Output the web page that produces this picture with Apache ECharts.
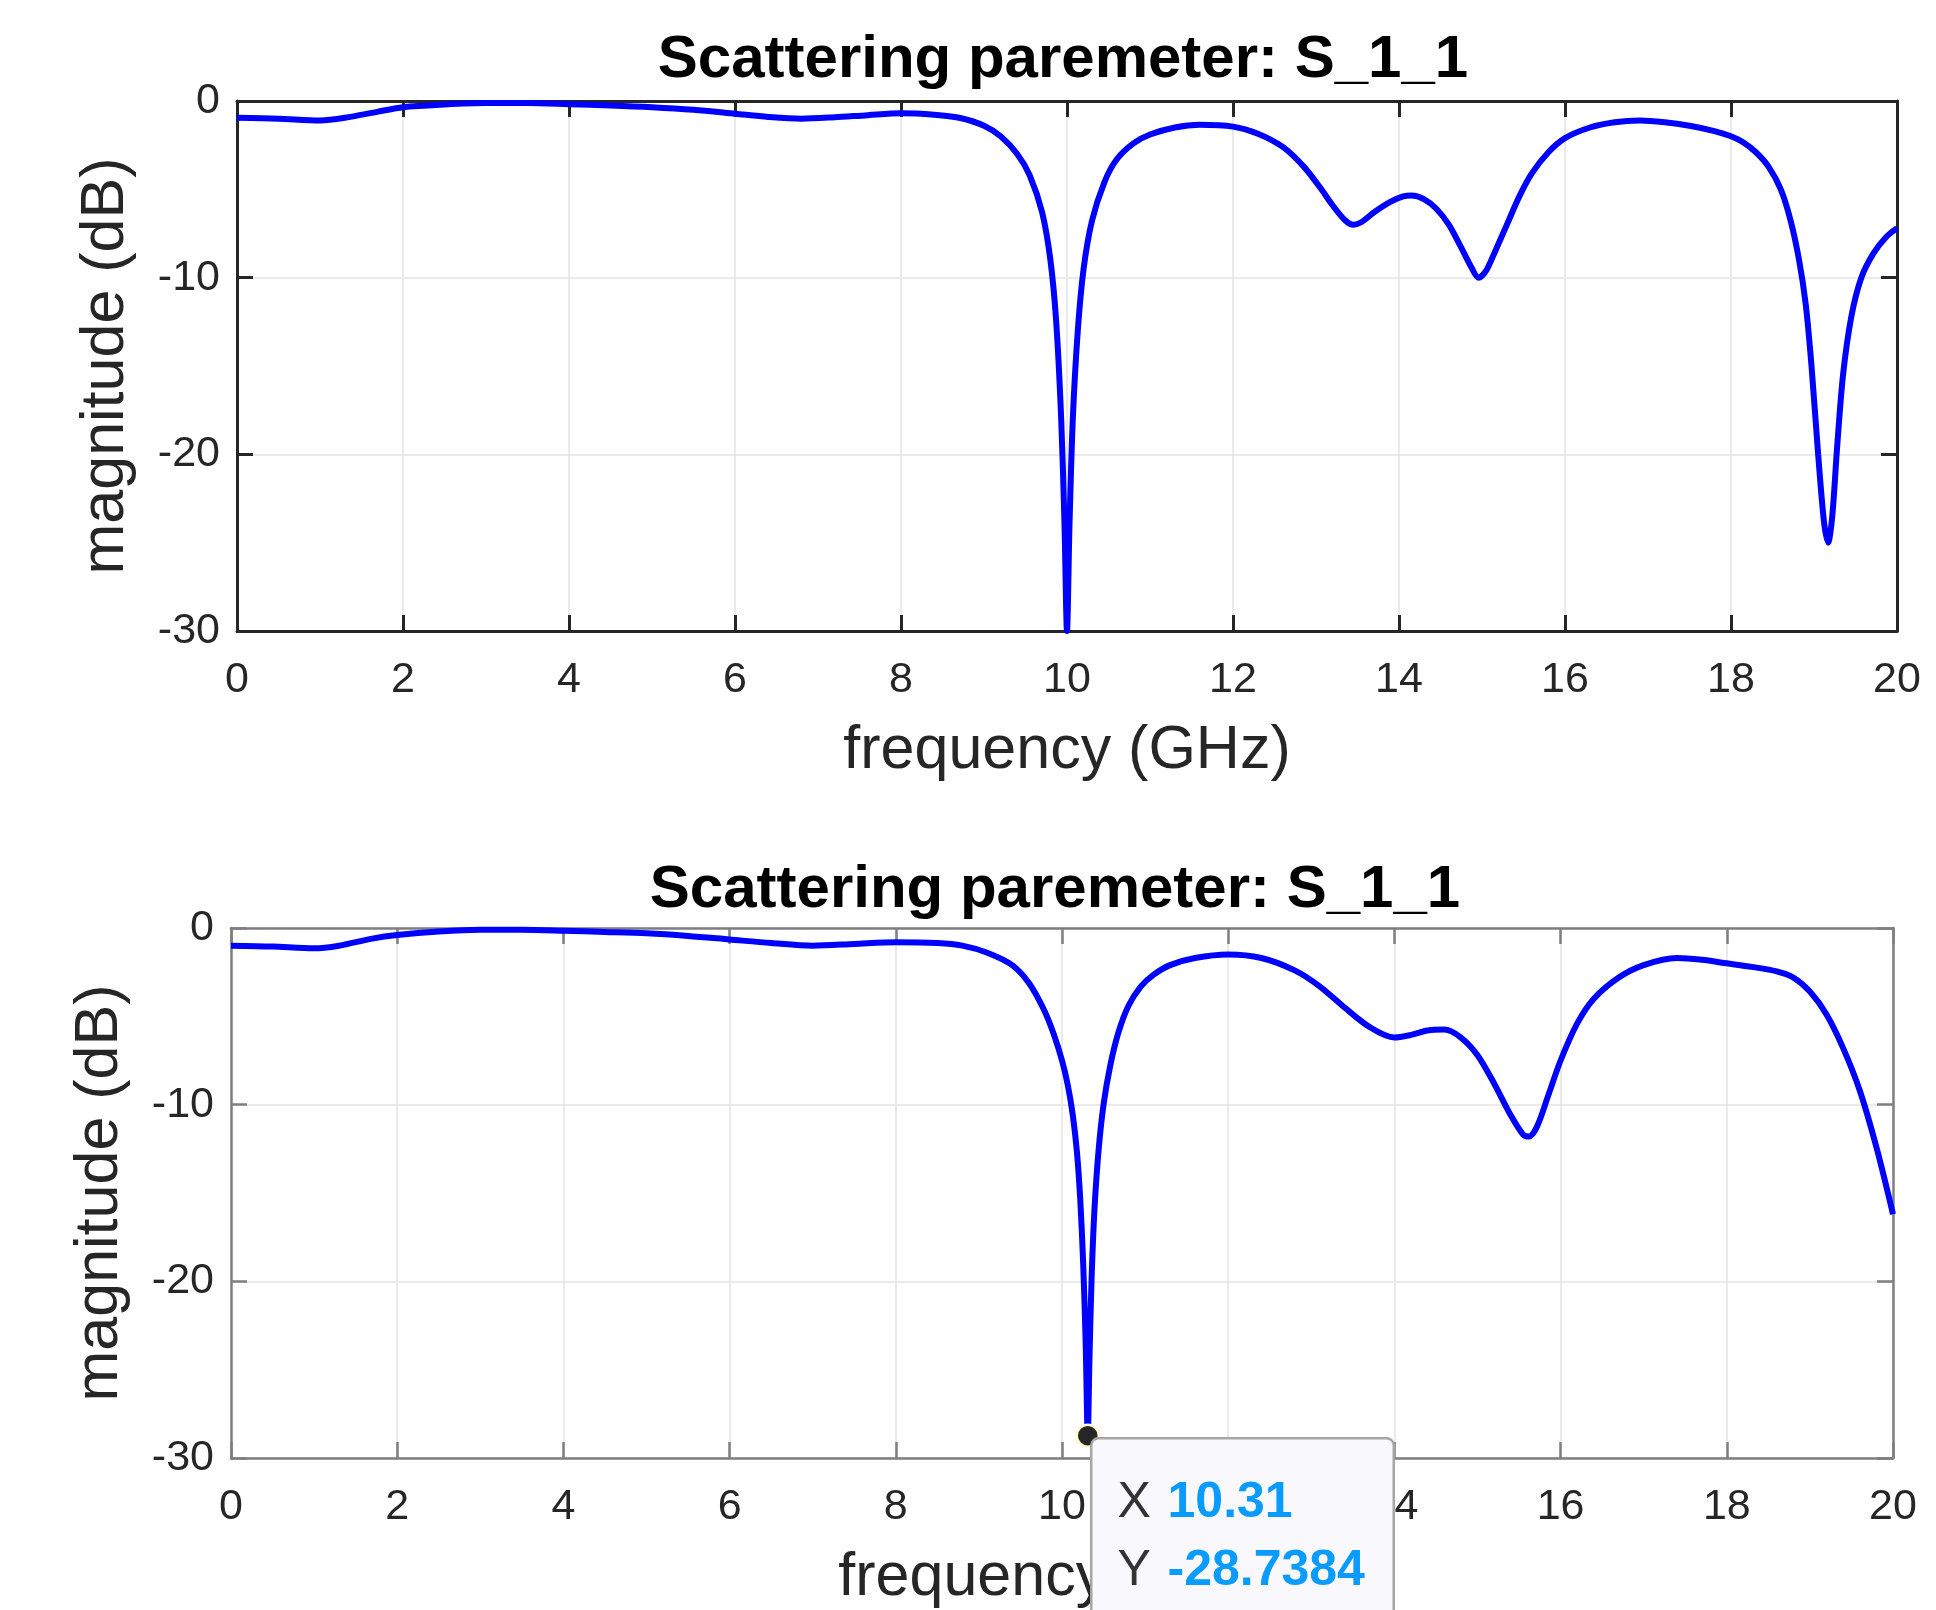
<!DOCTYPE html>
<html>
<head>
<meta charset="utf-8">
<script src="https://cdn.jsdelivr.net/npm/echarts@6/dist/echarts.min.js"></script>
<style>
  html, body { margin: 0; padding: 0; background: #ffffff; }
  #chart { width: 1936px; height: 1610px; }
</style>
</head>
<body>
<div id="chart"></div>
<script>
// ---- data ----
const titleText = 'Scattering paremeter: S_1_1';
const xName = 'frequency (GHz)';
const yName = 'magnitude (dB)';

// top panel
const freqTop = [0, 0.5, 1.0, 1.3, 1.7, 2.0, 2.5, 3.0, 3.5, 4.0, 4.5, 5.0, 5.5, 6.0, 6.4, 6.8, 7.2, 7.6, 8.0, 8.4, 8.7,
  9.0, 9.2, 9.4, 9.55, 9.7, 9.8, 9.87, 9.93, 9.97, 10.0, 10.03, 10.07, 10.13, 10.2, 10.3, 10.45, 10.6, 10.8,
  11.0, 11.3, 11.6, 12.0, 12.3, 12.6, 12.85, 13.05, 13.2, 13.35, 13.45, 13.55, 13.7, 13.9, 14.05, 14.15, 14.3, 14.45,
  14.6, 14.75, 14.87, 14.96, 15.05, 15.15, 15.3, 15.45, 15.6, 15.8, 16.0, 16.3, 16.6, 16.9, 17.2, 17.5, 17.8, 18.0,
  18.15, 18.3, 18.45, 18.6, 18.72, 18.82, 18.9, 18.97, 19.05, 19.12, 19.17, 19.22, 19.28, 19.35, 19.45, 19.57, 19.72, 19.87, 20.0];
const magTop = [-0.95, -1.0, -1.1, -0.95, -0.6, -0.35, -0.2, -0.12, -0.12, -0.18, -0.25, -0.35, -0.5, -0.72, -0.9, -1.0, -0.92, -0.8, -0.7, -0.78, -0.95,
  -1.4, -2.0, -3.0, -4.2, -6.3, -9.0, -12.5, -18, -24, -30, -24, -18, -13, -9.5, -6.8, -4.6, -3.3, -2.4,
  -1.9, -1.5, -1.35, -1.45, -1.85, -2.6, -3.7, -4.9, -5.9, -6.75, -7.0, -6.85, -6.3, -5.7, -5.4, -5.35, -5.55, -6.1,
  -7.0, -8.3, -9.4, -10.0, -9.6, -8.6, -7.0, -5.4, -4.1, -2.9, -2.1, -1.5, -1.2, -1.1, -1.2, -1.4, -1.7, -2.0,
  -2.35, -2.9, -3.7, -5.0, -6.8, -9.0, -11.5, -15.0, -20.0, -23.8, -25.0, -23.5, -19.5, -15.5, -12.2, -10.0, -8.6, -7.7, -7.2];

// bottom panel
const freqBottom = [0, 0.5, 1.0, 1.3, 1.7, 2.0, 2.5, 3.0, 3.5, 4.0, 4.5, 5.0, 5.5, 6.0, 6.5, 7.0, 7.5, 8.0, 8.5, 8.8,
  9.1, 9.4, 9.6, 9.78, 9.9, 10.0, 10.07, 10.13, 10.18, 10.22, 10.255, 10.285, 10.31, 10.33, 10.355, 10.39, 10.44, 10.5,
  10.58, 10.68, 10.8, 10.95, 11.1, 11.3, 11.6, 12.0, 12.4, 12.8, 13.1, 13.4, 13.7, 14.0, 14.2, 14.4, 14.6, 14.8, 15.0, 15.2,
  15.4, 15.55, 15.62, 15.72, 15.85, 16.0, 16.2, 16.4, 16.7, 17.0, 17.4, 17.7, 18.0, 18.3, 18.6, 18.8, 19.0, 19.2,
  19.4, 19.6, 19.8, 20.0];
const magBottom = [-1.0, -1.05, -1.15, -1.0, -0.6, -0.4, -0.2, -0.1, -0.1, -0.15, -0.22, -0.3, -0.45, -0.65, -0.85, -1.0, -0.9, -0.8, -0.85, -1.0,
  -1.4, -2.1, -3.1, -4.6, -6.0, -7.5, -8.9, -10.6, -12.7, -15.4, -19.0, -23.5, -28.7384, -24.5, -20.0, -16.0, -12.6, -10.0,
  -7.8, -5.9, -4.4, -3.3, -2.65, -2.1, -1.7, -1.5, -1.7, -2.4, -3.3, -4.5, -5.6, -6.2, -6.05, -5.8, -5.75, -6.2, -7.2, -8.8,
  -10.6, -11.7, -11.8, -11.2, -9.5, -7.5, -5.4, -4.0, -2.8, -2.1, -1.7, -1.8, -2.0, -2.2, -2.45, -2.8, -3.6, -4.9,
  -6.8, -9.2, -12.4, -16.2];

// data tip on bottom panel
const tipX = [10.31];
const tipY = [-28.7384];

// ---- build ----
const pairs = (xs, ys) => xs.map((x, i) => [x, ys[i]]);
const FONT = "'Liberation Sans', Arial, Helvetica, sans-serif";

const gridTop = { left: 237, top: 101, width: 1660, height: 530 };
const gridBot = { left: 231, top: 928, width: 1662, height: 530 };

function axes(gi, dark) {
  const lineColor = dark ? '#262626' : '#7f7f7f';
  const lineWidth = dark ? 3 : 2.5;
  const tick = { show: true, inside: true, length: 16, lineStyle: { color: lineColor, width: lineWidth } };
  const lbl = { color: '#262626', fontFamily: FONT, fontSize: 43 };
  const split = { show: true, lineStyle: { color: '#e3e3e3', width: 1.5 } };
  const xs = [
    { type: 'value', gridIndex: gi, min: 0, max: 20, interval: 2, position: 'bottom',
      name: xName, nameLocation: 'middle', nameGap: 90,
      nameTextStyle: { color: '#262626', fontFamily: FONT, fontSize: 61 },
      axisLine: { show: true, onZero: false, lineStyle: { color: lineColor, width: lineWidth } },
      axisTick: tick, axisLabel: Object.assign({ margin: 28 }, lbl), splitLine: split },
    { type: 'value', gridIndex: gi, min: 0, max: 20, interval: 2, position: 'top',
      axisLine: { show: true, onZero: false, lineStyle: { color: lineColor, width: lineWidth } },
      axisTick: tick, axisLabel: { show: false }, splitLine: { show: false } }
  ];
  const ys = [
    { type: 'value', gridIndex: gi, min: -30, max: 0, interval: 10, position: 'left',
      name: yName, nameLocation: 'middle', nameGap: 100, nameRotate: 90,
      nameTextStyle: { color: '#262626', fontFamily: FONT, fontSize: 61 },
      axisLine: { show: true, onZero: false, lineStyle: { color: lineColor, width: lineWidth } },
      axisTick: tick, axisLabel: Object.assign({ margin: 17 }, lbl), splitLine: split },
    { type: 'value', gridIndex: gi, min: -30, max: 0, interval: 10, position: 'right',
      axisLine: { show: true, onZero: false, lineStyle: { color: lineColor, width: lineWidth } },
      axisTick: tick, axisLabel: { show: false }, splitLine: { show: false } }
  ];
  return { xs, ys };
}

const a0 = axes(0, true);
const a1 = axes(1, false);

const option = {
  animation: false,
  backgroundColor: '#ffffff',
  grid: [gridTop, gridBot],
  xAxis: [...a0.xs, ...a1.xs],
  yAxis: [...a0.ys, ...a1.ys],
  graphic: [
    { type: 'text', x: 1063, y: 60, style: { text: titleText, font: "bold 60px 'Liberation Sans', Arial, sans-serif",
      fill: '#000000', align: 'center', verticalAlign: 'middle', textAlign: 'center', textVerticalAlign: 'middle' } },
    { type: 'text', x: 1055, y: 890, style: { text: titleText, font: "bold 60px 'Liberation Sans', Arial, sans-serif",
      fill: '#000000', align: 'center', verticalAlign: 'middle', textAlign: 'center', textVerticalAlign: 'middle' } }
  ],
  series: [
    { type: 'line', xAxisIndex: 0, yAxisIndex: 0, data: pairs(freqTop, magTop), showSymbol: false, symbol: 'none',
      smooth: 0.3, lineStyle: { color: '#0000ff', width: 6 } },
    { type: 'line', xAxisIndex: 2, yAxisIndex: 2, data: pairs(freqBottom, magBottom), showSymbol: false, symbol: 'none',
      smooth: 0.3, lineStyle: { color: '#0000ff', width: 6 } },
    { type: 'scatter', xAxisIndex: 2, yAxisIndex: 2, z: 50, clip: false,
      data: pairs(tipX, tipY), symbol: 'circle', symbolSize: 22,
      itemStyle: { color: '#262626', borderColor: '#fffbd0', borderWidth: 2.5, opacity: 1 },
      label: {
        show: true, position: [17, 16], align: 'left', verticalAlign: 'top',
        backgroundColor: '#f8f8fd', borderColor: '#a6a6a6', borderWidth: 2.5, borderRadius: 6,
        padding: [30, 25, 0, 25], width: 250, height: 200, opacity: 1,
        formatter: (p) => '{k|X}{v|' + p.value[0] + '}\n{k|Y}{v|' + p.value[1] + '}',
        rich: {
          k: { fontFamily: FONT, fontSize: 50, color: '#333333', width: 50, lineHeight: 68 },
          v: { fontFamily: FONT, fontSize: 50, fontWeight: 'bold', color: '#0a9bff', lineHeight: 68 }
        }
      }
    }
  ]
};

const chart = echarts.init(document.getElementById('chart'), null, { renderer: 'canvas' });
chart.setOption(option);
</script>
</body>
</html>
